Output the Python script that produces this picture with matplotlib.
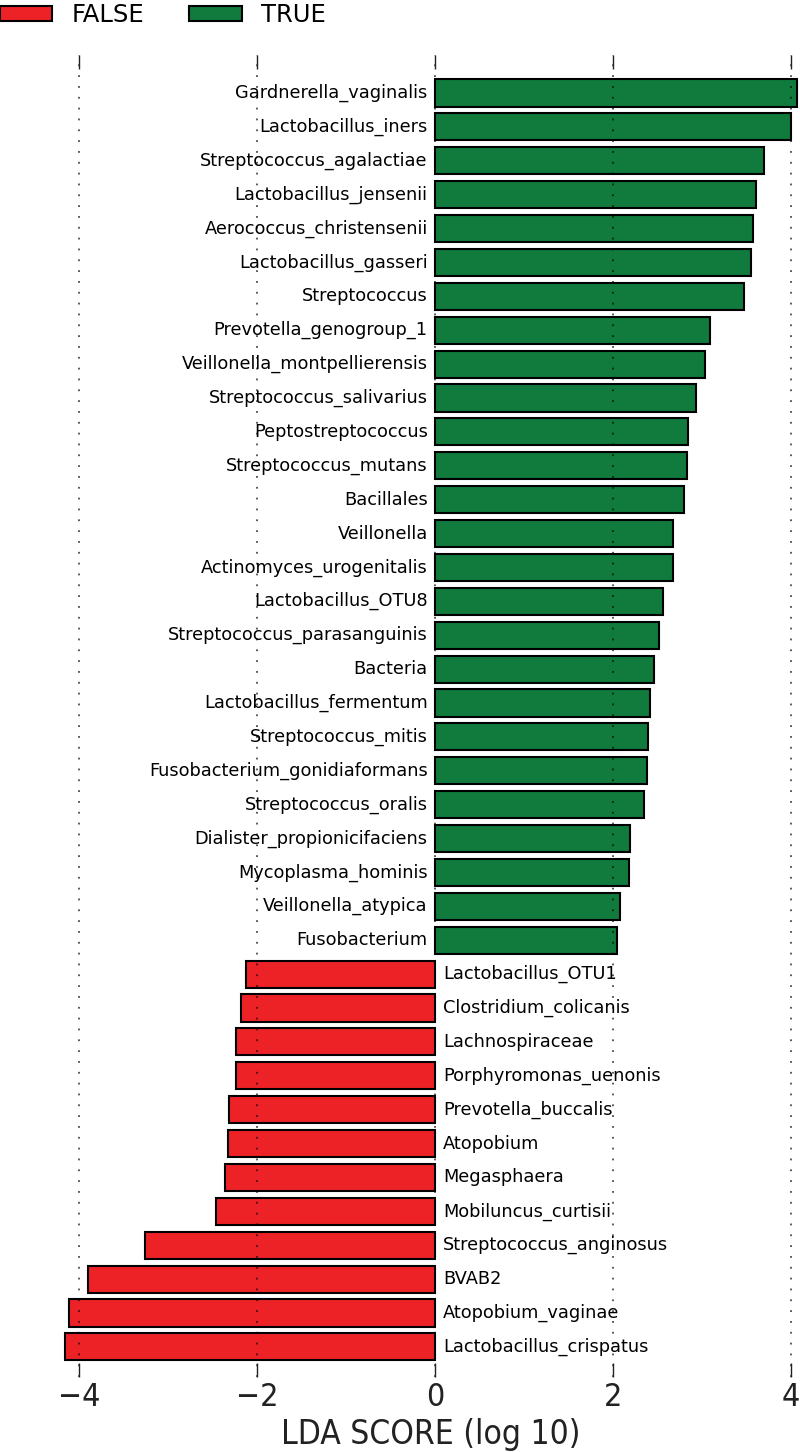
import numpy as np
import matplotlib
matplotlib.use('Agg')
import matplotlib.pyplot as plt
from matplotlib.patches import Patch

# taxa enriched in TRUE (top to bottom)
true_names = ['Gardnerella_vaginalis', 'Lactobacillus_iners', 'Streptococcus_agalactiae',
              'Lactobacillus_jensenii', 'Aerococcus_christensenii', 'Lactobacillus_gasseri',
              'Streptococcus', 'Prevotella_genogroup_1', 'Veillonella_montpellierensis',
              'Streptococcus_salivarius', 'Peptostreptococcus', 'Streptococcus_mutans',
              'Bacillales', 'Veillonella', 'Actinomyces_urogenitalis', 'Lactobacillus_OTU8',
              'Streptococcus_parasanguinis', 'Bacteria', 'Lactobacillus_fermentum',
              'Streptococcus_mitis', 'Fusobacterium_gonidiaformans', 'Streptococcus_oralis',
              'Dialister_propionicifaciens', 'Mycoplasma_hominis', 'Veillonella_atypica',
              'Fusobacterium']
true_lda = [4.07, 4.01, 3.70, 3.61, 3.58, 3.56, 3.48, 3.09, 3.04, 2.94, 2.85, 2.84,
            2.80, 2.68, 2.68, 2.57, 2.52, 2.47, 2.42, 2.40, 2.39, 2.35, 2.19, 2.18,
            2.08, 2.05]

# taxa enriched in FALSE (top to bottom)
false_names = ['Lactobacillus_OTU1', 'Clostridium_colicanis', 'Lachnospiraceae',
               'Porphyromonas_uenonis', 'Prevotella_buccalis', 'Atopobium', 'Megasphaera',
               'Mobiluncus_curtisii', 'Streptococcus_anginosus', 'BVAB2',
               'Atopobium_vaginae', 'Lactobacillus_crispatus']
false_lda = [-2.12, -2.18, -2.23, -2.24, -2.31, -2.32, -2.36, -2.46, -3.26, -3.90,
             -4.11, -4.16]

red = '#ED2227'
green = '#117A3D'

names = true_names + false_names
vals = np.array(true_lda + false_lda)
cols = [green] * len(true_names) + [red] * len(false_names)
n = len(names)
ypos = np.arange(n)[::-1]

fig = plt.figure(figsize=(8, 14.52), dpi=100)
ax = fig.add_axes([0.081, 0.0517, 0.915, 0.9104])

ax.barh(ypos, vals, height=0.8, color=cols, edgecolor='black', linewidth=1.5,
        clip_on=False, zorder=1)

for y, v, name in zip(ypos, vals, names):
    if v > 0:
        ax.text(-0.08, y, name, ha='right', va='center', fontsize=12.8)
    else:
        ax.text(0.09, y, name, ha='left', va='center', fontsize=12.8)

ax.set_xlim(vals.min(), vals.max())
ax.set_ylim(-0.885, n - 1 + 1.12)
ax.set_xticks([-4, -2, 0, 2, 4])
ax.set_xticklabels(['\u22124', '\u22122', '0', '2', '4'], fontsize=23,
                   fontstretch='condensed')
ax.set_yticks([])
ax.tick_params(axis='x', direction='in', length=10, width=1, top=True,
               colors='#222222')
for s in ax.spines.values():
    s.set_visible(False)

ax.grid(axis='x', linestyle=(0, (1, 5)), color='black', linewidth=1.3, alpha=0.7)
ax.set_axisbelow(False)

ax.set_xlabel('LDA SCORE (log 10)', fontsize=24, fontstretch='condensed',
              color='#222222', labelpad=4)

handles = [Patch(facecolor=red, edgecolor='black', linewidth=1.5, label='FALSE'),
           Patch(facecolor=green, edgecolor='black', linewidth=1.5, label='TRUE')]
fig.legend(handles=handles, loc='upper left', bbox_to_anchor=(0.0, 0.998), ncol=2,
           frameon=False, fontsize=17.5, borderpad=0, borderaxespad=0,
           handlelength=2.15, handleheight=0.6, handletextpad=0.8,
           columnspacing=1.85)

fig.savefig('out.png', dpi=100)
